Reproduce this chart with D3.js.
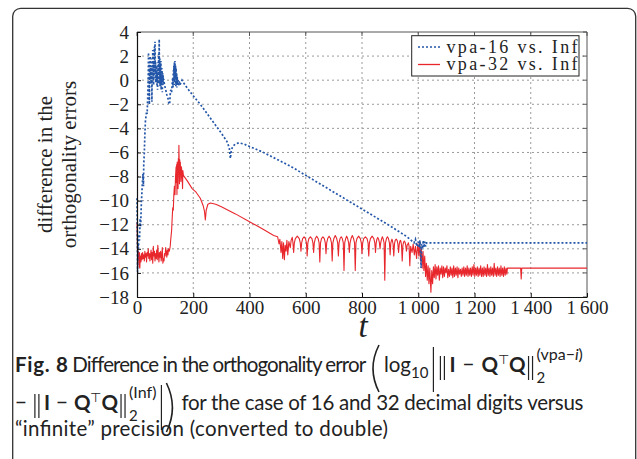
<!DOCTYPE html>
<html>
<head>
<meta charset="utf-8">
<script src="https://cdn.jsdelivr.net/npm/d3@7"></script>
<style>
  body { margin: 0; background: #fff; }
  svg { display: block; }
  text { white-space: pre; }
</style>
</head>
<body>
<script>
// axis ticks
var xTicks = [0, 200, 400, 600, 800, 1000, 1200, 1400, 1600];
var xTickLabels = ["0", "200", "400", "600", "800", "1\u2009000", "1\u2009200", "1\u2009400", "1\u2009600"];
var yTicks = [4, 2, 0, -2, -4, -6, -8, -10, -12, -14, -16, -18];
var yTickLabels = ["4", "2", "0", "\u22122", "\u22124", "\u22126", "\u22128", "\u221210", "\u221212", "\u221214", "\u221216", "\u221218"];
var legendNames = ["vpa-16 vs. Inf", "vpa-32 vs. Inf"];

// series, [t, value]
var vpa16 = [[0,-9.8],[1,-12],[2,-15.9],[3,-13.5],[5,-14],[7,-12.8],[9,-13.3],[11,-11.5],[13,-12.2],[15,-10.5],
  [17,-9.5],[19,-8.6],[21,-7.8],[23,-8.8],[24,-7],[26,-6],[28,-4.5],[30,-3.4],[32,-3],[34,-2.6],[36,-2.8],
  [38,-1.5],[39,-0.5],[40,0.5],[41,2.3],[42,0.3],[43,1.5],[44,-2],[45,1],[46,0.2],[47,2],[48,0],[49,1.2],
  [50,-0.3],[51,1.8],[52,0.5],[53,-1.8],[54,1.2],[55,0],[56,2.5],[57,0.5],[58,1.6],[59,-0.4],[60,1],[61,0.2],
  [62,2.8],[63,0.8],[64,3.2],[65,0.5],[66,1.5],[67,-0.2],[68,0.8],[69,0],[70,1.2],[71,-0.5],[72,0.6],[73,-0.8],
  [74,0.3],[75,1.5],[76,-0.3],[77,2.2],[78,0.4],[79,3.4],[80,0.2],[81,1.8],[82,-0.5],[83,1.2],[84,0.2],[85,1.6],
  [86,-0.8],[87,0.5],[88,-0.2],[89,1],[90,-1],[91,0.6],[92,-0.4],[93,0.4],[94,-0.2],[95,0.1],[97,-0.3],[100,-0.6],
  [103,-0.9],[106,-1.2],[110,-1.5],[113,-1.9],[116,-2],[118,-1.2],[120,-0.8],[123,-1],[125,-0.3],[127,0.2],
  [128,-0.6],[129,0.8],[130,-0.2],[131,1.2],[132,0],[133,1.5],[134,-0.4],[135,1.6],[136,0.3],[137,1.2],[138,-0.5],
  [139,1],[140,-0.2],[141,0.6],[142,-0.6],[143,0.3],[144,-0.4],[146,0],[148,-0.5],[150,-0.1],[153,-0.4],[156,-0.2],
  [160,0],[165,-0.2],[180,-0.7],[200,-1.3],[225,-2],[250,-2.8],[275,-3.6],[300,-4.4],[320,-5.1],[328,-5.6],
  [332,-6.5],[335,-5.9],[340,-5.5],[350,-5.3],[362,-5.2],[380,-5.3],[400,-5.5],[450,-6],[500,-6.6],[550,-7.2],
  [600,-7.9],[650,-8.6],[700,-9.3],[750,-10],[800,-10.7],[850,-11.4],[900,-12.1],[940,-12.7],[960,-13],
  [975,-13.3],[985,-13.5],[990,-13.2],[995,-13.8],[1000,-13.4],[1003,-13.9],[1006,-13.3],[1008,-14.2],
  [1010,-15.6],[1012,-13.6],[1015,-14],[1018,-13.3],[1020,-13.9],[1023,-13.4],[1026,-13.8],[1030,-13.5],[1600,-13.5]];

var vpa32 = [[0,-11.8],[1,-13],[2,-14.5],[3,-13.6],[4,-14.8],[5,-14.2],[6,-15],[8,-15.5],[9,-14.3],[10,-15.6],
  [12,-14.6],[14,-15.1],[16,-14.4],[18,-14.9],[20,-14.3],[22,-14.8],[24,-14.5],[26,-15],[28,-14.2],[30,-14.7],
  [32,-14.4],[34,-15.1],[36,-14.3],[38,-14.6],[40,-14],[42,-14.8],[44,-14.4],[46,-15],[48,-14.5],[50,-14.1],
  [52,-14.9],[54,-14.3],[56,-15.2],[58,-13.8],[60,-14.6],[62,-14.2],[64,-15],[66,-14.4],[68,-14.8],[70,-14.1],
  [72,-14.9],[74,-13.7],[76,-14.5],[78,-15.1],[80,-14.3],[82,-14.7],[84,-14.2],[86,-15],[88,-14.6],[90,-13.9],
  [92,-15.2],[94,-14.8],[96,-15],[98,-14.4],[100,-14.6],[102,-13.9],[104,-14.3],[106,-14.7],[108,-14.1],
  [110,-14.5],[112,-14],[115,-14.2],[118,-13.8],[120,-13.2],[123,-12.5],[125,-11.5],[127,-10.6],[129,-10.8],
  [131,-9.5],[133,-8.8],[135,-9.5],[137,-8],[139,-7.2],[140,-8.5],[141,-7],[142,-9.5],[143,-6.8],[144,-8.2],
  [145,-7.4],[146,-9],[147,-6.5],[148,-7.8],[149,-5.4],[150,-7],[151,-8.6],[152,-6.6],[153,-7.6],[154,-6.8],
  [156,-8.4],[158,-7.2],[160,-7.8],[162,-9],[163,-7.5],[165,-7.9],[180,-8.4],[196,-9],[210,-9.3],[225,-9.8],
  [235,-10.4],[240,-10.9],[243,-11.6],[246,-10.8],[252,-10.3],[261,-10.2],[280,-10.3],[300,-10.5],[350,-11.1],
  [400,-11.75],[450,-12.4],[486,-12.9],[500,-13],[505,-13.6],[508,-13.2],[512,-14.3],[515,-13.4],[518,-14.8],
  [521,-13.5],[524,-14.9],[527,-13.7],[530,-14.2],[533,-13.3],[536,-14.5],[540,-13.4],[545,-13.9],[548,-13.3],
  [552,-13.05],[554.5,-13.5],[557,-14.3],[559.5,-13.5],[563,-13.15],[570,-12.95],[577,-13.15],[580.5,-13.5],
  [583,-14.2],[585.5,-13.5],[589,-13.15],[594,-13],[599,-13.15],[602.5,-13.5],[605,-14.6],[607.5,-13.5],
  [611,-13.15],[616.5,-13],[622,-13.15],[625.5,-13.5],[628,-14.3],[630.5,-13.5],[634,-13.15],[639,-12.95],
  [644,-13.15],[647.5,-13.5],[650,-15.1],[652.5,-13.5],[656,-13.15],[661,-13],[666,-13.15],[669.5,-13.5],
  [672,-14.4],[674.5,-13.5],[678,-13.15],[683,-12.95],[688,-13.15],[691.5,-13.5],[694,-15],[696.5,-13.5],
  [700,-13.15],[705,-12.9],[710,-13.15],[713.5,-13.5],[716,-14.6],[718.5,-13.5],[722,-13.15],[726,-13],
  [730,-13.15],[733.5,-13.5],[736,-15.8],[738.5,-13.5],[742,-13.15],[745.5,-12.95],[749,-13.15],[752.5,-13.5],
  [755,-14.3],[757.5,-13.5],[761,-13.15],[765.5,-12.9],[770,-13.15],[773.5,-13.5],[776,-15.8],[778.5,-13.5],
  [782,-13.15],[788,-12.95],[794,-13.15],[797.5,-13.5],[800,-14.4],[802.5,-13.5],[806,-13.15],[812,-13],
  [818,-13.15],[821.5,-13.5],[824,-14.6],[826.5,-13.5],[830,-13.15],[836,-12.95],[842,-13.15],[845.5,-13.5],
  [848,-14.3],[850.5,-13.5],[853,-13.2],[856,-13.05],[859,-13.2],[862,-13.5],[864,-14],[866.5,-13.5],
  [870,-13.15],[872.5,-13],[875,-13.15],[878.5,-13.5],[881,-16.6],[883.5,-13.5],[887,-13.15],[890.5,-13],
  [894,-13.15],[897.5,-13.5],[900,-14.5],[902.5,-13.5],[905,-13.3],[906.5,-13.2],[908,-13.3],[910.5,-13.6],
  [913,-14.6],[915.5,-13.6],[918,-13.3],[921.5,-13.2],[925,-13.3],[927.5,-13.6],[930,-14.3],[932.5,-13.6],
  [935,-13.35],[936.5,-13.3],[938,-13.35],[940.5,-13.7],[943,-15],[945.5,-13.7],[948,-13.45],[950.5,-13.35],
  [953,-13.45],[955.5,-13.7],[958,-14.2],[960.5,-13.7],[963,-13.6],[965,-13.5],[967.5,-13.8],[970,-15.4],
  [973,-13.8],[978,-14.3],[982,-13.6],[986,-14.5],[990,-13.8],[994,-14.8],[998,-13.6],[1002,-14.6],[1005,-13.4],
  [1008,-15],[1011,-13.9],[1014,-15.6],[1017,-14.2],[1020,-15.8],[1023,-14.6],[1026,-16.3],[1029,-15.2],
  [1032,-16.6],[1035,-15.4],[1038,-16.9],[1041,-15.6],[1045,-17.6],[1048,-15.8],[1051,-16.9],[1054,-15.5],
  [1057,-16.4],[1060,-15.3],[1063,-16.5],[1066,-15.5],[1069,-16.2],[1072,-15.4],[1075,-16.6],[1078,-15.6],
  [1081,-16.1],[1084,-15.4],[1087,-16.4],[1090,-15.5],[1093,-16.3],[1096,-15.6],[1099,-16],[1102,-15.4],
  [1105,-16.4],[1108,-15.7],[1111,-16.3],[1114,-15.5],[1117,-16.2],[1120,-15.6],[1123,-16.4],[1126,-15.4],
  [1129,-16.3],[1132,-15.6],[1135,-16.2],[1138,-15.5],[1141,-16.4],[1144,-15.6],[1147,-16.1],[1150,-15.7],
  [1153,-16.3],[1156,-15.6],[1159,-16.2],[1162,-15.5],[1165,-16.3],[1168,-15.6],[1171,-16.2],[1174,-15.4],
  [1177,-16.3],[1180,-15.6],[1183,-16.2],[1186,-15.6],[1189,-16.3],[1192,-15.5],[1195,-16.2],[1198,-15.3],
  [1201,-16.3],[1204,-15.6],[1207,-16.2],[1210,-15.5],[1213,-16.3],[1216,-15.6],[1219,-16.2],[1222,-15.4],
  [1225,-16.3],[1228,-15.6],[1231,-16.3],[1234,-15.5],[1237,-16.2],[1240,-15.6],[1243,-16.3],[1246,-15.3],
  [1249,-16.2],[1252,-15.6],[1255,-16.3],[1258,-15.5],[1261,-16.2],[1264,-15.6],[1267,-16.3],[1270,-15.2],
  [1273,-16.2],[1276,-15.6],[1279,-16.3],[1282,-15.5],[1285,-16.2],[1288,-15.6],[1291,-16.3],[1294,-15.4],
  [1297,-16.2],[1300,-15.6],[1303,-16.3],[1306,-15.5],[1309,-16.2],[1312,-15.6],[1315,-16.1],[1317,-15.6],
  [1364,-15.6],[1366,-16.5],[1368,-15.6],[1600,-15.6]];

var W = 637, H = 459;
var plot = {left: 137, right: 587, top: 32, bottom: 297};
var serif = "'Liberation Serif', 'Times New Roman', serif";
var blue = "#2356a8", red = "#e8272d";

var svg = d3.select("body").append("svg")
    .attr("width", W)
    .attr("height", H);

// outer figure frame, runs off the bottom
svg.append("rect")
    .attr("x", 12.7).attr("y", 8.3)
    .attr("width", 623).attr("height", 520)
    .attr("rx", 8)
    .attr("fill", "none")
    .attr("stroke", "#333")
    .attr("stroke-width", 1.3);

var x = d3.scaleLinear().domain([0, 1600]).range([plot.left, plot.right]);
var y = d3.scaleLinear().domain([-18, 4]).range([plot.bottom, plot.top]);

// dotted grid
var grid = svg.append("g").attr("stroke", "#9a9a9a").attr("stroke-width", 1).attr("stroke-dasharray", "2,3");
grid.selectAll(".gx").data(xTicks.slice(1, -1)).enter().append("line")
    .attr("x1", function(d) { return x(d); }).attr("x2", function(d) { return x(d); })
    .attr("y1", plot.top).attr("y2", plot.bottom);
grid.selectAll(".gy").data(yTicks.slice(1, -1)).enter().append("line")
    .attr("y1", function(d) { return y(d); }).attr("y2", function(d) { return y(d); })
    .attr("x1", plot.left).attr("x2", plot.right);

// top and right border with inward ticks
var frame = svg.append("g").attr("stroke", "#555").attr("stroke-width", 1);
frame.append("line").attr("x1", plot.left).attr("x2", plot.right).attr("y1", plot.top).attr("y2", plot.top);
frame.append("line").attr("x1", plot.right).attr("x2", plot.right).attr("y1", plot.top).attr("y2", plot.bottom);
frame.selectAll(".tt").data(xTicks).enter().append("line")
    .attr("x1", function(d) { return x(d); }).attr("x2", function(d) { return x(d); })
    .attr("y1", plot.top).attr("y2", plot.top + 4);
frame.selectAll(".tr").data(yTicks).enter().append("line")
    .attr("y1", function(d) { return y(d); }).attr("y2", function(d) { return y(d); })
    .attr("x1", plot.right).attr("x2", plot.right - 4);

// lines
var line = d3.line()
    .x(function(d) { return x(d[0]); })
    .y(function(d) { return y(d[1]); });

svg.append("path")
    .datum(vpa32)
    .attr("d", line)
    .attr("fill", "none")
    .attr("stroke", red)
    .attr("stroke-width", 1.1)
    .attr("stroke-linejoin", "round");

svg.append("path")
    .datum(vpa16)
    .attr("d", line)
    .attr("fill", "none")
    .attr("stroke", blue)
    .attr("stroke-width", 1.7)
    .attr("stroke-dasharray", "2,2");

// axes
var xAxis = d3.axisBottom(x)
    .tickValues(xTicks)
    .tickFormat(function(d, i) { return xTickLabels[i]; })
    .tickSizeInner(-4).tickSizeOuter(0)
    .tickPadding(4);
var gx = svg.append("g")
    .attr("transform", "translate(0," + plot.bottom + ")")
    .call(xAxis);

var yAxis = d3.axisLeft(y)
    .tickValues(yTicks)
    .tickFormat(function(d, i) { return yTickLabels[i]; })
    .tickSizeInner(-4).tickSizeOuter(0)
    .tickPadding(8);
var gy = svg.append("g")
    .attr("transform", "translate(" + plot.left + ",0)")
    .call(yAxis);

[gx, gy].forEach(function(g) {
  g.select(".domain").attr("stroke", "#111").attr("stroke-width", 1.2);
  g.selectAll(".tick line").attr("stroke", "#111");
  g.selectAll("text").attr("font-family", serif).attr("font-size", "19px").attr("fill", "#222");
});

// axis titles
svg.append("text")
    .attr("x", 363).attr("y", 337)
    .attr("text-anchor", "middle")
    .attr("font-family", serif).attr("font-style", "italic")
    .attr("font-size", "33px").attr("fill", "#222")
    .text("t");

["difference in the", "orthogonality errors"].forEach(function(s, i) {
  svg.append("text")
      .attr("transform", "translate(" + (52 + i * 24) + "," + ((plot.top + plot.bottom) / 2) + ") rotate(-90)")
      .attr("text-anchor", "middle")
      .attr("font-family", serif).attr("font-size", "21px").attr("fill", "#222")
      .text(s);
});

// legend
var lg = svg.append("g");
lg.append("rect")
    .attr("x", 411.7).attr("y", 35.7)
    .attr("width", 167.3).attr("height", 40.3)
    .attr("fill", "#fff").attr("stroke", "#222").attr("stroke-width", 1);
legendNames.forEach(function(name, i) {
  var ly = 47 + i * 17.5;
  lg.append("line")
      .attr("x1", 418).attr("x2", 440).attr("y1", ly).attr("y2", ly)
      .attr("stroke", i === 0 ? blue : red)
      .attr("stroke-width", i === 0 ? 1.7 : 1.3)
      .attr("stroke-dasharray", i === 0 ? "2,2" : null);
  lg.append("text")
      .attr("x", 446.5).attr("y", ly + 5.5)
      .attr("font-family", serif).attr("font-size", "18px").attr("fill", "#222")
      .attr("textLength", 131).attr("lengthAdjust", "spacing")
      .text(name);
});

// caption, laid out run by run
var cap = svg.append("g").attr("font-family", "Lato, 'Open Sans', sans-serif").attr("fill", "#222");
var capSize = 20.5, scriptSize = 15;

function runText(g, xx, base, r) {
  var t = g.append("text")
      .attr("x", xx).attr("y", base + (r.dy || 0))
      .attr("font-size", (r.size || capSize) + "px")
      .attr("font-weight", r.bold ? 700 : 400);
  (r.parts || [{t: r.t}]).forEach(function(p) {
    t.append("tspan").attr("font-style", p.it ? "italic" : null).text(p.t);
  });
  if (r.len) {
    t.attr("textLength", r.len).attr("lengthAdjust", "spacing");
    return r.len;
  }
  return t.node().getComputedTextLength();
}

function layout(xx, base, runs) {
  runs.forEach(function(r) {
    if (r.gap) { xx += r.gap; return; }
    if (r.bar) {
      for (var k = 0; k < r.bar; k++) {
        cap.append("line").attr("x1", xx + k * 4).attr("x2", xx + k * 4)
            .attr("y1", base + r.top).attr("y2", base + r.bot)
            .attr("stroke", "#222").attr("stroke-width", 1.2);
      }
      xx += (r.bar - 1) * 4 + 1; return;
    }
    if (r.paren) {
      var top = base + r.top, bot = base + r.bot, mid = (top + bot) / 2, s = r.paren === "(" ? 1 : -1;
      var x0 = r.paren === "(" ? xx + 9 : xx + 2;
      cap.append("path")
          .attr("d", "M" + x0 + "," + top + " Q" + (x0 - s * 12) + "," + mid + " " + x0 + "," + bot)
          .attr("fill", "none").attr("stroke", "#222").attr("stroke-width", 1.6);
      xx += 11; return;
    }
    if (r.stack) {
      var w = 0;
      r.stack.forEach(function(s) { w = Math.max(w, runText(cap, xx, base, s)); });
      xx += w; return;
    }
    xx += runText(cap, xx, base, r);
  });
}

function normQ(gap) {
  return [
    {bar: 2, top: -16, bot: 8}, {gap: 4},
    {t: "I", bold: true}, {gap: gap}, {t: "\u2212"}, {gap: gap}, {t: "Q", bold: true},
    {t: "\u22a4", size: 13, dy: -8}, {t: "Q", bold: true}, {gap: 3},
    {bar: 2, top: -16, bot: 8}, {gap: 3}
  ];
}

layout(15, 372, [
  {t: "Fig. 8", bold: true, len: 53}, {t: " Difference in the orthogonality error ", len: 302},
  {paren: "(", top: -27, bot: 20}, {gap: 3},
  {t: "log", len: 27}, {t: "10", size: scriptSize, dy: 6}, {gap: 5},
  {bar: 1, top: -25, bot: 20}, {gap: 6}
].concat(normQ(7)).concat([
  {stack: [{t: "2", size: scriptSize, dy: 11},
           {parts: [{t: "(vpa\u2212"}, {t: "i", it: true}, {t: ")"}], size: 16, dy: -12}]}
]));

layout(15, 410, [
  {t: "\u2212"}, {gap: 8}
].concat(normQ(6)).concat([
  {stack: [{t: "2", size: scriptSize, dy: 11}, {t: "(Inf)", size: 16, dy: -12}]}, {gap: 5},
  {bar: 1, top: -25, bot: 20}, {gap: 2},
  {paren: ")", top: -27, bot: 22}, {gap: 6},
  {t: "for the case of 16 and 32 decimal digits versus", len: 402}
]));

layout(15, 436, [{t: "\u201cinfinite\u201d precision (converted to double)", len: 373}]);
</script>
</body>
</html>
